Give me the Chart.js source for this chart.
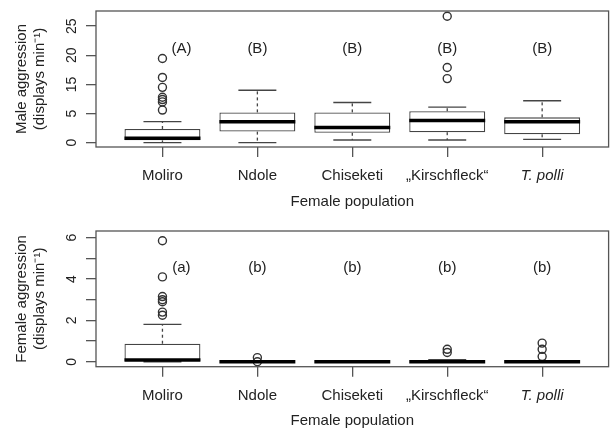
<!DOCTYPE html>
<html>
<head>
<meta charset="utf-8">
<script src="https://cdn.jsdelivr.net/npm/chart.js@4.4.0/dist/chart.umd.min.js"></script>
<style>
    body { margin: 0; background: #fff; }
    #wrapper { width: 614px; height: 433px; }
    canvas { display: block; }
</style>
</head>
<body>
<div id="wrapper">
    <canvas id="cMale" width="614" height="216"></canvas>
    <canvas id="cFemale" width="614" height="217"></canvas>
</div>
<script>
"use strict"

const populations = ["Moliro", "Ndole", "Chiseketi", "\u201EKirschfleck\u201C", "T. polli"];

// male aggression (values read in axis position units)
const maleLow = [0, 0, 0.46, 0.46, 0.58];
const maleQ1 = [0.4, 1.9, 1.7, 1.8, 1.44];
const maleMedian = [0.75, 3.6, 2.6, 3.8, 3.6];
const maleQ3 = [2.35, 5.2, 5.2, 5.4, 4.35];
const maleHigh = [3.6, 9.0, 6.9, 6.1, 7.2];
const maleOutliers = [[14.45, 11.2, 9.5, 7.8, 7.4, 7.0, 5.6], [], [], [21.7, 12.9, 11.0], []];
const maleLetters = ["(A)", "(B)", "(B)", "(B)", "(B)"];
const maleTickValues = [0, 5, 10, 15, 20];
const maleTickLabels = ["0", "5", "15", "20", "25"];

// female aggression
const femaleLow = [0, 0, 0, 0, 0];
const femaleQ1 = [0, 0, 0, 0, 0];
const femaleMedian = [0.08, 0, 0, 0, 0];
const femaleQ3 = [0.87, 0, 0, 0, 0];
const femaleHigh = [1.81, 0, 0, 0.1, 0];
const femaleOutliers = [[5.85, 4.1, 3.15, 3.0, 2.9, 2.4, 2.25], [0.2, 0.0], [], [0.6, 0.45], [0.9, 0.6, 0.25]];
const femaleLetters = ["(a)", "(b)", "(b)", "(b)", "(b)"];
const femaleTickValues = [0, 1, 2, 3, 4, 5, 6];
const femaleTickLabels = ["0", "", "2", "", "4", "", "6"];

const FONT = "'Liberation Sans', Arial, sans-serif";
const TXT = "#222";
const LINE = "#444";

function line(ctx, x1, y1, x2, y2) {
    ctx.beginPath();
    ctx.moveTo(x1, y1);
    ctx.lineTo(x2, y2);
    ctx.stroke();
}

const boxExtras = {
    id: "boxExtras",
    afterDatasetDraw(chart, args, opts) {
        if (args.index !== 0) return;
        let ctx = chart.ctx;
        let y = chart.scales.y;
        let bars = chart.getDatasetMeta(0).data;
        ctx.save();
        bars.forEach(function (bar, i) {
            let cx = bar.x;
            let half = bar.width / 2;
            let yLo = y.getPixelForValue(opts.low[i]);
            let yQ1 = y.getPixelForValue(opts.q1[i]);
            let yQ3 = y.getPixelForValue(opts.q3[i]);
            let yHi = y.getPixelForValue(opts.high[i]);
            let yMed = y.getPixelForValue(opts.median[i]);
            ctx.strokeStyle = LINE;
            ctx.lineWidth = 1.3;
            ctx.setLineDash([3, 3]);
            if (yHi < yQ3) line(ctx, cx, yQ3, cx, yHi);
            if (yLo > yQ1) line(ctx, cx, yQ1, cx, yLo);
            ctx.setLineDash([]);
            line(ctx, cx - half / 2, yHi, cx + half / 2, yHi);
            line(ctx, cx - half / 2, yLo, cx + half / 2, yLo);
            ctx.strokeStyle = "#000";
            ctx.lineWidth = 3.5;
            line(ctx, cx - half, yMed, cx + half, yMed);
        });
        ctx.restore();
    },
    afterDraw(chart, args, opts) {
        let ctx = chart.ctx;
        let a = chart.chartArea;
        let x = chart.scales.x;
        let y = chart.scales.y;
        ctx.save();
        // frame
        ctx.strokeStyle = "#555";
        ctx.lineWidth = 1.3;
        ctx.strokeRect(a.left, a.top, a.right - a.left, a.bottom - a.top);
        // rotated y tick labels
        ctx.fillStyle = TXT;
        ctx.font = "14px " + FONT;
        ctx.textAlign = "center";
        ctx.textBaseline = "middle";
        y.ticks.forEach(function (t, i) {
            ctx.save();
            ctx.translate(a.left - 23.5, y.getPixelForValue(t.value));
            ctx.rotate(-Math.PI / 2);
            ctx.fillText(opts.tickLabels[i], 0, 0);
            ctx.restore();
        });
        // group letters
        ctx.font = "15px " + FONT;
        opts.letters.forEach(function (l, i) {
            ctx.fillText(l, x.getPixelForValue(opts.letterX[i]), y.getPixelForValue(opts.letterY));
        });
        ctx.restore();
    }
};

function makeBoxChart(canvasId, s) {
    let boxes = populations.map(function (p, i) {
        return { x: i + 1, y: [s.q1[i], s.q3[i]] };
    });
    let points = [];
    s.outliers.forEach(function (list, i) {
        for (const v of list) points.push({ x: i + 1, y: v });
    });

    return new Chart(document.getElementById(canvasId), {
        type: "bar",
        data: {
            datasets: [{
                type: "bar",
                data: boxes,
                backgroundColor: "#fff",
                borderColor: LINE,
                borderWidth: 1.3,
                borderSkipped: false,
                categoryPercentage: 0.8,
                barPercentage: 1.0
            }, {
                type: "scatter",
                data: points,
                showLine: false,
                pointRadius: 4,
                pointBorderWidth: 1.4,
                pointBorderColor: "#333",
                pointBackgroundColor: "rgba(0,0,0,0)"
            }]
        },
        options: {
            responsive: false,
            animation: false,
            layout: { padding: { top: s.padTop, right: 2, left: 0, bottom: 0 } },
            plugins: {
                legend: { display: false },
                tooltip: { enabled: false },
                boxExtras: {
                    low: s.low, q1: s.q1, median: s.median, q3: s.q3, high: s.high,
                    letters: s.letters,
                    letterX: [1.2, 2, 3, 4, 5],
                    letterY: s.letterY,
                    tickLabels: s.tickLabels
                }
            },
            scales: {
                x: {
                    type: "linear",
                    min: 0.3,
                    max: 5.7,
                    offset: false,
                    afterBuildTicks: function (scale) {
                        scale.ticks = populations.map(function (p, i) { return { value: i + 1 }; });
                    },
                    ticks: {
                        autoSkip: false,
                        maxRotation: 0,
                        padding: s.labelPad,
                        color: TXT,
                        font: function (c) {
                            return { family: FONT, size: 15, style: c.index === 4 ? "italic" : "normal" };
                        },
                        callback: function (v, i) { return populations[i]; }
                    },
                    grid: { offset: false, drawOnChartArea: false, tickLength: 10, color: "#555", lineWidth: 1.3 },
                    border: { display: false },
                    title: {
                        display: true,
                        text: "Female population",
                        color: TXT,
                        font: { family: FONT, size: 15 },
                        padding: { top: 0, bottom: s.titlePad }
                    },
                    afterFit: function (scale) {
                        scale.height = s.xHeight;
                        scale.paddingLeft = 0;
                        scale.paddingRight = 0;
                    }
                },
                y: {
                    min: s.min,
                    max: s.max,
                    afterBuildTicks: function (scale) {
                        scale.ticks = s.tickValues.map(function (v) { return { value: v }; });
                    },
                    ticks: { display: false },
                    grid: { drawOnChartArea: false, tickLength: 10, color: "#555", lineWidth: 1.3 },
                    border: { display: false },
                    title: {
                        display: true,
                        text: s.title,
                        color: TXT,
                        font: { family: FONT, size: 15 },
                        padding: { top: 13, bottom: 0 }
                    },
                    afterFit: function (scale) {
                        scale.width = 96;
                        scale.paddingTop = 0;
                        scale.paddingBottom = 0;
                    }
                }
            }
        },
        plugins: [boxExtras]
    });
}

makeBoxChart("cMale", {
    low: maleLow, q1: maleQ1, median: maleMedian, q3: maleQ3, high: maleHigh,
    outliers: maleOutliers, letters: maleLetters, letterY: 16.07,
    tickValues: maleTickValues, tickLabels: maleTickLabels,
    min: -0.74, max: 22.6,
    title: ["Male aggression", "(displays min\u207B\u00B9)"],
    padTop: 11, xHeight: 69, labelPad: 10, titlePad: 5
});

makeBoxChart("cFemale", {
    low: femaleLow, q1: femaleQ1, median: femaleMedian, q3: femaleQ3, high: femaleHigh,
    outliers: femaleOutliers, letters: femaleLetters, letterY: 4.55,
    tickValues: femaleTickValues, tickLabels: femaleTickLabels,
    min: -0.24, max: 6.32,
    title: ["Female aggression", "(displays min\u207B\u00B9)"],
    padTop: 15, xHeight: 66.3, labelPad: 10.3, titlePad: 3
});
</script>
</body>
</html>
